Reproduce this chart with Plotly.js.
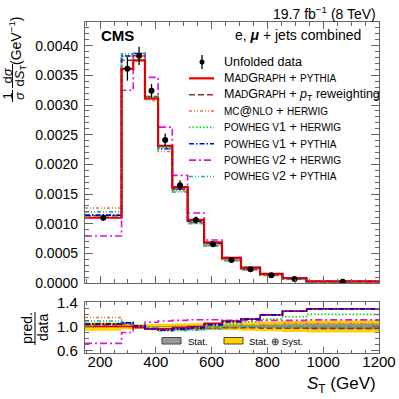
<!DOCTYPE html>
<html><head><meta charset="utf-8">
<script src="https://cdn.plot.ly/plotly-3.0.1.min.js"></script>
<style>html,body{margin:0;padding:0;background:#fff}</style>
</head><body>
<div id="plot" style="width:399px;height:399px"></div>
<script>
// ---------- data ----------
const binEdges = [146, 277, 319, 361, 408, 459, 514, 573, 637, 705, 774, 854, 940, 1200];
const dataVals = [0.001100, 0.003610, 0.003830, 0.003240, 0.002410, 0.001650, 0.001063, 0.000653, 0.000388, 0.000231, 0.000130, 0.0000670, 0.0000220];
const relTotErr = [0.050, 0.055, 0.040, 0.035, 0.045, 0.050, 0.055, 0.060, 0.070, 0.080, 0.090, 0.100, 0.100];
const relStatErr = [0.012, 0.010, 0.008, 0.008, 0.009, 0.010, 0.012, 0.015, 0.018, 0.022, 0.027, 0.035, 0.045];
const bandTotErr = [0.070, 0.045, 0.040, 0.040, 0.045, 0.050, 0.055, 0.060, 0.065, 0.070, 0.080, 0.090, 0.100];

const mgPythia   = [0.001100, 0.003610, 0.003753, 0.003110, 0.002314, 0.001617, 0.001063, 0.000686, 0.000423, 0.000259, 0.000155, 0.0000840, 0.0000284];
const mgPtRew    = [0.001133, 0.003754, 0.003830, 0.003143, 0.002314, 0.001584, 0.001020, 0.000633, 0.000380, 0.000226, 0.000126, 0.0000650, 0.0000213];
const mcatnloHw  = [0.001265, 0.003827, 0.003830, 0.003078, 0.002217, 0.001551, 0.001010, 0.000633, 0.000388, 0.000236, 0.000134, 0.0000704, 0.0000231];
const powV1Hw    = [0.001144, 0.003827, 0.003868, 0.003143, 0.002290, 0.001568, 0.001031, 0.000653, 0.000404, 0.000249, 0.000146, 0.0000777, 0.0000264];
const powV1Py    = [0.001144, 0.003827, 0.003868, 0.003110, 0.002265, 0.001584, 0.001042, 0.000673, 0.000419, 0.000259, 0.000155, 0.0000838, 0.0000284];
const powV2Hw    = [0.000792, 0.003249, 0.003868, 0.003467, 0.002627, 0.001815, 0.001180, 0.000725, 0.000427, 0.000254, 0.000143, 0.0000737, 0.0000244];
const powV2Py    = [0.001199, 0.003863, 0.003868, 0.003110, 0.002265, 0.001535, 0.000999, 0.000627, 0.000380, 0.000231, 0.000130, 0.0000670, 0.0000220];

const sc = s => '<span style="font-size:10px">' + s + '</span>';
const legendLabels = [
  'Unfolded data',
  'M' + sc('AD') + 'G' + sc('RAPH') + ' + ' + sc('PYTHIA'),
  'M' + sc('AD') + 'G' + sc('RAPH') + ' + <i>p</i><sub>T</sub> reweighting',
  sc('MC') + '@' + sc('NLO') + ' + ' + sc('HERWIG'),
  sc('POWHEG V') + '1 + ' + sc('HERWIG'),
  sc('POWHEG V') + '1 + ' + sc('PYTHIA'),
  sc('POWHEG V') + '2 + ' + sc('HERWIG'),
  sc('POWHEG V') + '2 + ' + sc('PYTHIA')
];

const models = [
  {vals: mgPythia,  color: '#e00000', dash: 'solid',              width: 2.2},
  {vals: mgPtRew,   color: '#8b2e2e', dash: '6px,3px',            width: 1.6},
  {vals: mcatnloHw, color: '#e0783a', dash: '3px,2px,1px,2px,1px,2px', width: 1.5},
  {vals: powV1Hw,   color: '#00dd00', dash: '1.5px,2px',          width: 1.6},
  {vals: powV1Py,   color: '#0000ee', dash: '5px,2px,1.5px,2px',  width: 1.6},
  {vals: powV2Hw,   color: '#e010e0', dash: '7px,3px,2px,3px',    width: 1.6},
  {vals: powV2Py,   color: '#20aaaa', dash: '4px,2px,1px,2px,1px,2px', width: 1.6}
];

// ---------- geometry helpers (layout only) ----------
const L = 85, R = 20, T = 22, B = 46, W = 399, H = 399;
const pw = W - L - R, ph = H - T - B;
const px = x => (x - L) / pw;
const py = y => (H - B - y) / ph;
const FONT = 'Liberation Sans, Arial, Helvetica, sans-serif';

const stepY = v => v.concat([v[v.length - 1]]);
const centers = binEdges.slice(0, -1).map((e, i) => (e + binEdges[i + 1]) / 2);

const traces = [];
// ratio bands
const totLo = bandTotErr.map(e => 1 - e), totHi = bandTotErr.map(e => 1 + e);
const stLo = relStatErr.map(e => 1 - e), stHi = relStatErr.map(e => 1 + e);
traces.push({x: binEdges, y: stepY(totLo), xaxis: 'x2', yaxis: 'y2', mode: 'lines', line: {shape: 'hv', width: 0}, hoverinfo: 'skip', showlegend: false});
traces.push({x: binEdges, y: stepY(totHi), xaxis: 'x2', yaxis: 'y2', mode: 'lines', line: {shape: 'hv', width: 0}, fill: 'tonexty', fillcolor: '#ffd200', hoverinfo: 'skip', showlegend: false});
traces.push({x: binEdges, y: stepY(stLo), xaxis: 'x2', yaxis: 'y2', mode: 'lines', line: {shape: 'hv', width: 0}, hoverinfo: 'skip', showlegend: false});
traces.push({x: binEdges, y: stepY(stHi), xaxis: 'x2', yaxis: 'y2', mode: 'lines', line: {shape: 'hv', width: 0}, fill: 'tonexty', fillcolor: 'rgba(140,140,140,0.85)', hoverinfo: 'skip', showlegend: false});

// models: main and ratio (draw red last so it is on top)
const order = [1, 2, 3, 4, 5, 6, 0];
order.forEach(k => {
  const m = models[k];
  traces.push({x: binEdges, y: stepY(m.vals), xaxis: 'x', yaxis: 'y', mode: 'lines',
    line: {shape: 'hv', color: m.color, dash: m.dash, width: m.width}, showlegend: false});
  const r = m.vals.map((v, i) => v / dataVals[i]);
  traces.push({x: binEdges, y: stepY(r), xaxis: 'x2', yaxis: 'y2', mode: 'lines',
    line: {shape: 'hv', color: m.color, dash: m.dash, width: Math.min(m.width, 1.6)}, showlegend: false});
});
// ratio: blue on top at high ST
traces.push({x: binEdges, y: stepY(powV1Py.map((v, i) => v / dataVals[i])), xaxis: 'x2', yaxis: 'y2', mode: 'lines',
  line: {shape: 'hv', color: models[4].color, dash: models[4].dash, width: 1.6}, showlegend: false});

// data
traces.push({x: centers, y: dataVals, xaxis: 'x', yaxis: 'y', mode: 'markers',
  marker: {color: '#000', size: 6, symbol: 'circle'},
  error_y: {type: 'data', array: dataVals.map((v, i) => v * relTotErr[i]), color: '#000', thickness: 1.3, width: 0},
  showlegend: false});

// ---------- annotations & shapes ----------
const ann = [], shapes = [];
const txt = (x, y, text, o = {}) => ann.push(Object.assign({
  x: px(x), y: py(y), xref: 'paper', yref: 'paper', text, showarrow: false,
  xanchor: 'left', yanchor: 'middle', font: {family: FONT, size: 12.5, color: '#000'}}, o));

txt(99, 36, '<b>CMS</b>', {font: {family: FONT, size: 15, color: '#000'}});
txt(378, 13, '19.7 fb<sup>−1</sup> (8 TeV)', {xanchor: 'right', font: {family: FONT, size: 14, color: '#000'}});
txt(363, 35, 'e, <b><i>μ</i></b> + jets combined', {xanchor: 'right', font: {family: FONT, size: 14, color: '#000'}});

// legend
const legY0 = 62, legDy = 16.35;
legendLabels.forEach((lab, i) => {
  const y = legY0 + i * legDy;
  txt(222, y, lab);
  if (i === 0) {
    shapes.push({type: 'line', xref: 'paper', yref: 'paper', x0: px(202), x1: px(202), y0: py(y - 7), y1: py(y + 7), line: {color: '#000', width: 1.3}});
    shapes.push({type: 'circle', xref: 'paper', yref: 'paper', x0: px(199.5), x1: px(204.5), y0: py(y + 2.5), y1: py(y - 2.5), fillcolor: '#000', line: {color: '#000', width: 0}});
  } else {
    const m = models[i - 1];
    shapes.push({type: 'line', xref: 'paper', yref: 'paper', x0: px(189), x1: px(214), y0: py(y), y1: py(y), line: {color: m.color, dash: m.dash, width: m.width}});
  }
});

// y title (main)
const rot = {textangle: -90, xanchor: 'center', yanchor: 'middle'};
txt(6.5, 96, '1', Object.assign({font: {family: FONT, size: 13, color: '#000'}}, rot));
txt(19, 96, '<i>σ</i>', Object.assign({font: {family: FONT, size: 13, color: '#000'}}, rot));
txt(6.5, 76, 'd<i>σ</i>', Object.assign({font: {family: FONT, size: 13, color: '#000'}}, rot));
txt(19.5, 76, 'd<i>S</i><sub>T</sub>', Object.assign({font: {family: FONT, size: 13, color: '#000'}}, rot));
txt(15, 41, '(GeV<sup>−1</sup>)', Object.assign({font: {family: FONT, size: 14, color: '#000'}}, rot));
shapes.push({type: 'line', xref: 'paper', yref: 'paper', x0: px(12.5), x1: px(12.5), y0: py(90), y1: py(102), line: {color: '#000', width: 1}});
shapes.push({type: 'line', xref: 'paper', yref: 'paper', x0: px(12.5), x1: px(12.5), y0: py(64), y1: py(88), line: {color: '#000', width: 1}});

// ratio y title
txt(27, 328, 'pred.', Object.assign({font: {family: FONT, size: 14, color: '#000'}}, rot));
txt(43, 328, 'data', Object.assign({font: {family: FONT, size: 14, color: '#000'}}, rot));
shapes.push({type: 'line', xref: 'paper', yref: 'paper', x0: px(35), x1: px(35), y0: py(312), y1: py(345), line: {color: '#000', width: 1}});

// x title
txt(378, 385, '<i>S</i><sub>T</sub> (GeV)', {xanchor: 'right', font: {family: FONT, size: 17, color: '#000'}});

// ratio legend
shapes.push({type: 'rect', xref: 'paper', yref: 'paper', x0: px(162), x1: px(181), y0: py(344), y1: py(337.5), fillcolor: '#999', line: {color: '#444', width: 1}});
txt(186, 341, 'Stat.', {font: {family: FONT, size: 9.5, color: '#000'}});
shapes.push({type: 'rect', xref: 'paper', yref: 'paper', x0: px(224), x1: px(243), y0: py(344), y1: py(337.5), fillcolor: '#ffd200', line: {color: '#444', width: 1}});
txt(247, 341, 'Stat. ⊕ Syst.', {font: {family: FONT, size: 9.5, color: '#000'}});

const axCommon = {showline: true, mirror: 'allticks', linecolor: '#666', linewidth: 1.2,
  ticks: 'inside', tickcolor: '#666', tickwidth: 1, showgrid: false, zeroline: false,
  tickfont: {family: FONT, size: 14, color: '#000'}};

const layout = {
  width: W, height: H, margin: {l: L, r: R, t: T, b: B},
  paper_bgcolor: '#fff', plot_bgcolor: '#fff', showlegend: false,
  xaxis: Object.assign({}, axCommon, {domain: [0, 1], anchor: 'y', range: [146, 1200], showticklabels: false,
    tickvals: [200, 400, 600, 800, 1000, 1200], ticklen: 7, minor: {dtick: 50, tick0: 0, ticks: 'inside', ticklen: 4, tickcolor: '#666'}}),
  yaxis: Object.assign({}, axCommon, {domain: [py(283), 1], anchor: 'x', range: [0, 0.0044],
    dtick: 0.0005, tick0: 0, tickformat: '.4f', ticklen: 8, ticklabelstandoff: 3,
    minor: {dtick: 0.0001, ticks: 'inside', ticklen: 4, tickcolor: '#666'}}),
  xaxis2: Object.assign({}, axCommon, {domain: [0, 1], anchor: 'y2', range: [146, 1200],
    tickvals: [200, 400, 600, 800, 1000, 1200], ticklen: 6, ticklabelstandoff: -5, tickfont: {family: FONT, size: 15, color: '#000'},
    minor: {dtick: 50, tick0: 0, ticks: 'inside', ticklen: 3, tickcolor: '#666'}}),
  yaxis2: Object.assign({}, axCommon, {domain: [0, py(301.7)], anchor: 'x2', range: [0.56, 1.41],
    tickvals: [0.6, 1.0, 1.4], ticktext: ['0.6', '1.0', '1.4'], ticklen: 8, ticklabelstandoff: 3,
    tickfont: {family: FONT, size: 15, color: '#000'},
    minor: {dtick: 0.1, tick0: 0, ticks: 'inside', ticklen: 4, tickcolor: '#666'}}),
  annotations: ann, shapes: shapes
};

Plotly.newPlot('plot', traces, layout, {staticPlot: true, displayModeBar: false});
</script>
</body></html>
